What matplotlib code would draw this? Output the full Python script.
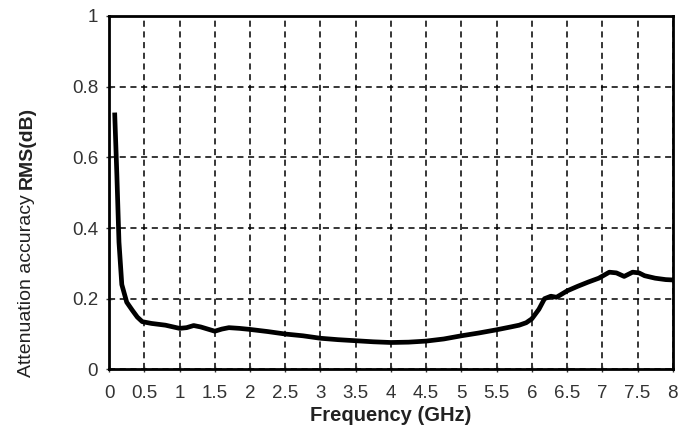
import matplotlib
matplotlib.use("Agg")
from matplotlib import pyplot as plt

plt.rcParams['font.family'] = ['Liberation Sans', 'DejaVu Sans']

# valores
freq = [0.08, 0.11, 0.14, 0.18, 0.25, 0.33, 0.40, 0.47, 0.6, 0.8, 1.0, 1.1, 1.2,
        1.3, 1.5, 1.6, 1.7, 1.85, 2.0, 2.25, 2.5, 2.75, 3.0, 3.25, 3.5, 3.75,
        4.0, 4.25, 4.5, 4.75, 5.0, 5.25, 5.5, 5.7, 5.82, 5.92, 6.0, 6.1, 6.18,
        6.27, 6.35, 6.5, 6.65, 6.8, 6.95, 7.1, 7.2, 7.31, 7.43, 7.52, 7.6, 7.75,
        7.9, 8.0]
rms = [0.72, 0.55, 0.36, 0.24, 0.19, 0.167, 0.148, 0.135, 0.13, 0.125, 0.116,
       0.118, 0.124, 0.12, 0.108, 0.114, 0.118, 0.116, 0.113, 0.107, 0.100,
       0.095, 0.088, 0.084, 0.081, 0.078, 0.076, 0.077, 0.080, 0.086, 0.095,
       0.103, 0.112, 0.120, 0.125, 0.132, 0.143, 0.170, 0.200, 0.207, 0.204,
       0.222, 0.235, 0.247, 0.258, 0.275, 0.273, 0.263, 0.275, 0.273, 0.265,
       0.258, 0.254, 0.253]

x_ticks = [0, 0.5, 1, 1.5, 2, 2.5, 3, 3.5, 4, 4.5, 5, 5.5, 6, 6.5, 7, 7.5, 8]
x_labels = ["0", "0.5", "1", "1.5", "2", "2.5", "3", "3.5", "4", "4.5", "5",
            "5.5", "6", "6.5", "7", "7.5", "8"]
y_ticks = [0, 0.2, 0.4, 0.6, 0.8, 1]
y_labels = ["0", "0.2", "0.4", "0.6", "0.8", "1"]

fig = plt.figure(figsize=(6.95, 4.32), dpi=100)
ax = fig.add_axes([0.157, 0.145, 0.811, 0.818])

ax.plot(freq, rms, color="black", linewidth=3.4, solid_joinstyle="round")
ax.set_xlim(0, 8)
ax.set_ylim(0, 1)
ax.set_xticks(x_ticks)
ax.set_xticklabels(x_labels)
ax.set_yticks(y_ticks)
ax.set_yticklabels(y_labels)
ax.grid(True, color="black", linestyle=(0, (4, 3)), linewidth=1.1)
ax.tick_params(labelsize=13.5, colors="#333333", length=4, width=1, direction="inout")
ax.tick_params(axis="x", pad=9)
ax.tick_params(axis="y", pad=6)
for s in ax.spines.values():
    s.set_linewidth(2)
    s.set_color("black")

ax.set_xlabel("Frequency (GHz)", fontsize=14.5, fontweight="bold", labelpad=3,
              color="#222222")

# etiqueta y con parte normal y parte en negrita
t1 = fig.text(27 / 695, 1 - 377 / 432, "Attenuation accuracy ", rotation=90,
              ha="center", va="bottom", fontsize=14, color="#222222")
fig.canvas.draw()
bb = t1.get_window_extent()
y_top = bb.y1 / fig.bbox.height
fig.text(27 / 695, y_top, "RMS(dB)", rotation=90, ha="center", va="bottom",
         fontsize=14, fontweight="bold", color="#222222")

fig.savefig("out.png", dpi=100)
